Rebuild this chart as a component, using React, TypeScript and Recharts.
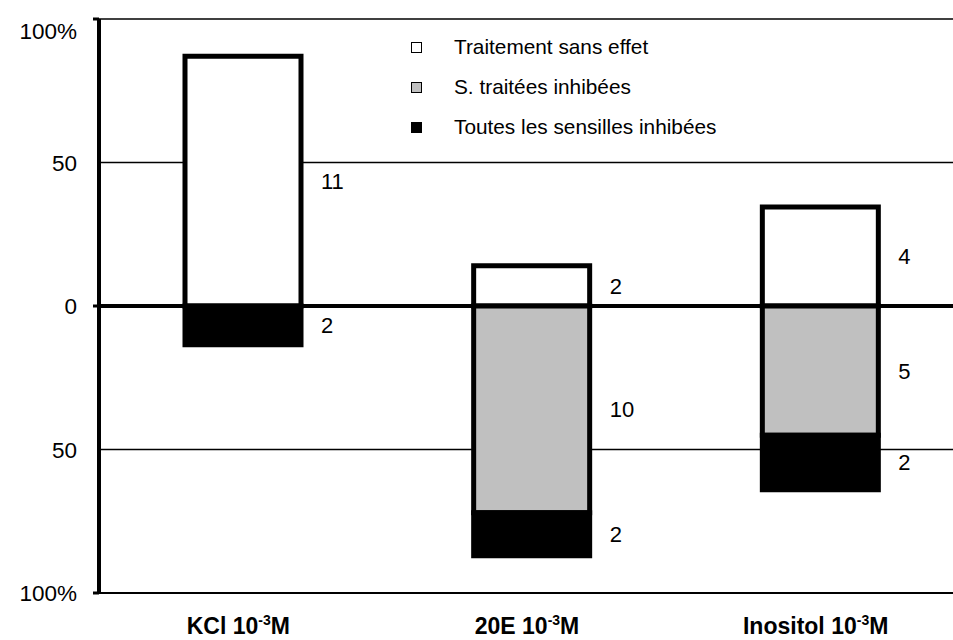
import React from 'react';
import { BarChart, Bar, XAxis, YAxis, CartesianGrid, ReferenceLine, LabelList, Legend } from 'recharts';

// ---- data ----
const categories = ['KCl', '20E', 'Inositol'];
const concentrationBase = '10';
const concentrationExp = '-3';
const concentrationUnit = 'M';

const seriesNames = ['Traitement sans effet', 'S. traitées inhibées', 'Toutes les sensilles inhibées'];
const noEffectPct = [87, 14, 34.5];
const treatedInhibitedPct = [0, -72, -45];
const allInhibitedPct = [-13.5, -15, -19];
const noEffectCount = [11, 2, 4];
const treatedInhibitedCount: (number | null)[] = [null, 10, 5];
const allInhibitedCount = [2, 2, 2];

const yTicks = [-100, -50, 0, 50, 100];
const yTickLabels = ['100%', '50', '0', '50', '100%'];

// ---- styles ----
const FONT = '"Liberation Sans", Arial, Helvetica, sans-serif';
const seriesFills = ['#ffffff', '#c0c0c0', '#000000'];

const data = categories.map((name, i) => ({
  name,
  noEffect: noEffectPct[i],
  treated: treatedInhibitedPct[i],
  all: allInhibitedPct[i],
  noEffectCount: noEffectCount[i],
  treatedCount: treatedInhibitedCount[i],
  allCount: allInhibitedCount[i],
}));

const YTick = (props: any) => {
  const { x, y, payload } = props;
  const v = payload.value;
  const i = yTicks.indexOf(v);
  const showMark = Math.abs(v) !== 50;
  const isTop = i === yTicks.length - 1;
  return (
    <g>
      {showMark && <line x1={x - 6} x2={x} y1={y} y2={y} stroke="#000" strokeWidth={3} />}
      <text x={x - 22} y={y + 8 + (isTop ? 12 : 0)} textAnchor="end" fontSize={22.5} fill="#000" fontFamily={FONT}>
        {i >= 0 ? yTickLabels[i] : v}
      </text>
    </g>
  );
};

const XTick = (props: any) => {
  const { x, y, payload } = props;
  return (
    <text x={x - 5} y={y + 41} textAnchor="middle" fontSize={23} fontWeight="bold" fill="#000" fontFamily={FONT}>
      <tspan>{`${payload.value} ${concentrationBase}`}</tspan>
      <tspan dy={-9} fontSize={14}>{concentrationExp}</tspan>
      <tspan dy={9}>{concentrationUnit}</tspan>
    </text>
  );
};

const BarLabel = (props: any) => {
  const { x, y, width, height, value } = props;
  if (value === null || value === undefined) return null;
  return (
    <text x={x + width + 20} y={y + height / 2 + 8} textAnchor="start" fontSize={22} fill="#000" fontFamily={FONT}>
      {value}
    </text>
  );
};

const LegendContent = () => (
  <div style={{ fontFamily: FONT, fontSize: 20.8, color: '#000' }}>
    {seriesNames.map((n, i) => (
      <div key={n} style={{ display: 'flex', alignItems: 'center', height: 40, whiteSpace: 'nowrap' }}>
        <span
          style={{
            display: 'inline-block',
            width: 9,
            height: 9,
            border: '1px solid #000',
            background: seriesFills[i],
          }}
        />
        <span style={{ marginLeft: 32 }}>{n}</span>
      </div>
    ))}
  </div>
);

export default function App() {
  return (
    <div style={{ position: 'absolute', left: 0, top: 0, width: 953, height: 640, overflow: 'hidden', background: '#fff' }}>
      <BarChart
        width={975}
        height={640}
        data={data}
        stackOffset="sign"
        margin={{ top: 19, right: 10, left: 0, bottom: 0 }}
        barSize={116}
      >
        <CartesianGrid vertical={false} stroke="#000" strokeWidth={1.3} />
        <XAxis
          dataKey="name"
          axisLine={{ stroke: '#000', strokeWidth: 2 }}
          tickLine={false}
          tickSize={0}
          tickMargin={0}
          tick={XTick}
          height={47}
          interval={0}
        />
        <YAxis
          type="number"
          domain={[-100, 100]}
          ticks={yTicks}
          interval={0}
          axisLine={{ stroke: '#000', strokeWidth: 4 }}
          tickLine={false}
          tickSize={0}
          tickMargin={0}
          tick={YTick}
          width={99}
        />
        <Legend
          layout="vertical"
          align="center"
          verticalAlign="middle"
          content={LegendContent}
          wrapperStyle={{ left: 411, top: 27, width: 'auto', height: 'auto' }}
        />
        <Bar dataKey="noEffect" name={seriesNames[0]} stackId="a" fill={seriesFills[0]} stroke="#000" strokeWidth={5} isAnimationActive={false}>
          <LabelList dataKey="noEffectCount" content={BarLabel} />
        </Bar>
        <Bar dataKey="treated" name={seriesNames[1]} stackId="a" fill={seriesFills[1]} stroke="#000" strokeWidth={5} isAnimationActive={false}>
          <LabelList dataKey="treatedCount" content={BarLabel} />
        </Bar>
        <Bar dataKey="all" name={seriesNames[2]} stackId="a" fill={seriesFills[2]} stroke="#000" strokeWidth={5} isAnimationActive={false}>
          <LabelList dataKey="allCount" content={BarLabel} />
        </Bar>
        <ReferenceLine y={0} stroke="#000" strokeWidth={4} />
      </BarChart>
    </div>
  );
}
